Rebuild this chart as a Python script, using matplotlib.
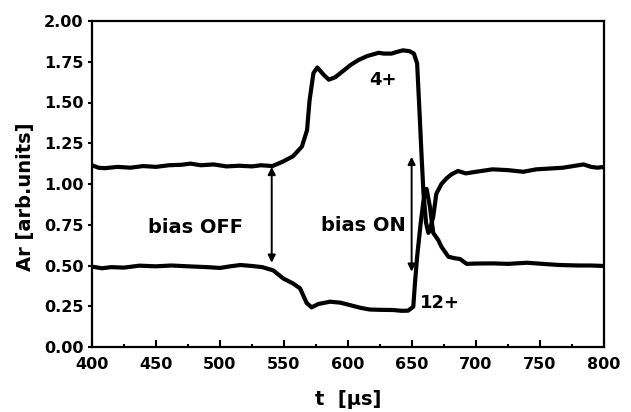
import matplotlib
matplotlib.use("Agg")
import matplotlib.pyplot as plt

# 4+ signal
t_4 = [400, 405, 410, 420, 430, 440, 450, 460, 470, 477, 485, 495, 505, 515, 525, 532,
       541, 549, 557, 564, 568, 570, 573, 576, 581, 585, 590, 594, 602, 608, 615, 624,
       628, 634, 638, 643, 648, 651.5, 654, 655.7, 657.5, 659, 661, 662.8, 664, 666.6,
       669, 673, 677, 681, 686, 692, 700, 713, 725, 737, 747, 758, 768, 776, 784, 790,
       795, 800]
y_4 = [1.115, 1.10, 1.097, 1.105, 1.10, 1.11, 1.105, 1.115, 1.118, 1.125, 1.115, 1.12,
       1.108, 1.112, 1.108, 1.115, 1.11, 1.137, 1.17, 1.23, 1.33, 1.515, 1.68, 1.715,
       1.67, 1.64, 1.655, 1.68, 1.73, 1.76, 1.785, 1.805, 1.80, 1.80, 1.81, 1.82, 1.815,
       1.80, 1.74, 1.47, 1.17, 0.94, 0.76, 0.70, 0.72, 0.80, 0.94, 1.00, 1.035, 1.06,
       1.08, 1.065, 1.075, 1.09, 1.085, 1.075, 1.09, 1.095, 1.10, 1.11, 1.12, 1.105,
       1.10, 1.105]

# 12+ signal
t_12 = [400, 408, 415, 425, 437, 450, 462, 475, 490, 500, 508, 516, 525, 533, 541.6,
        549.5, 557, 562.5, 567.7, 571.6, 576.8, 586, 594, 604, 610, 617, 625, 635, 642,
        647, 651, 652.3, 654, 656.8, 659, 661.4, 664, 666.6, 670.5, 673, 678.4, 683,
        687.5, 692.7, 700, 713, 725, 740, 752, 765, 780, 790, 800]
y_12 = [0.493, 0.483, 0.49, 0.487, 0.499, 0.495, 0.50, 0.495, 0.49, 0.485, 0.495, 0.503,
        0.497, 0.49, 0.47, 0.42, 0.39, 0.36, 0.27, 0.243, 0.264, 0.278, 0.272, 0.252,
        0.24, 0.23, 0.228, 0.227, 0.222, 0.223, 0.247, 0.39, 0.554, 0.76, 0.90, 0.97,
        0.86, 0.70, 0.656, 0.615, 0.554, 0.545, 0.54, 0.51, 0.512, 0.513, 0.51, 0.517,
        0.51, 0.503, 0.50, 0.50, 0.497]

x_ticks = [400, 450, 500, 550, 600, 650, 700, 750, 800]
y_ticks = [0.00, 0.25, 0.50, 0.75, 1.00, 1.25, 1.50, 1.75, 2.00]

plt.rcParams['font.family'] = ['DejaVu Sans']
plt.rcParams['font.weight'] = 'bold'

fig = plt.figure(figsize=(6.31, 4.12), dpi=100)
ax = fig.add_axes([92/631, 1-347/412, (604-92)/631, (347-21)/412])

ax.plot(t_4, y_4, color='black', lw=3, solid_joinstyle='round', solid_capstyle='round')
ax.plot(t_12, y_12, color='black', lw=3, solid_joinstyle='round', solid_capstyle='round')

ax.set_xlim(400, 800)
ax.set_ylim(0, 2.0)
ax.set_xticks(x_ticks)
ax.set_xticks([425, 475, 525, 575, 625, 675, 725, 775], minor=True)
ax.set_yticks(y_ticks)
ax.set_xticklabels([str(v) for v in x_ticks], fontsize=11.5, fontweight='bold')
ax.set_yticklabels([f"{v:.2f}" for v in y_ticks], fontsize=11.5, fontweight='bold')

for s in ax.spines.values():
    s.set_linewidth(1.6)
ax.tick_params(axis='x', which='major', direction='in', length=5, width=1.5, pad=7)
ax.tick_params(axis='x', which='minor', direction='in', length=2.5, width=1.5)
ax.tick_params(axis='y', which='major', direction='out', length=3, width=1.5, pad=3)

ax.set_xlabel("t  [μs]", fontsize=14, fontweight='bold', labelpad=13)
ax.set_ylabel("Ar [arb.units]", fontsize=14, fontweight='bold')
ax.yaxis.set_label_coords(-0.112, 0.46)

# annotations
arrow_kw = dict(arrowstyle='<|-|>', color='black', lw=1.4, mutation_scale=11,
                shrinkA=0, shrinkB=0)
ax.annotate('', xy=(540.4, 1.105), xytext=(540.4, 0.517), arrowprops=arrow_kw)
ax.annotate('', xy=(649.7, 1.167), xytext=(649.7, 0.462), arrowprops=arrow_kw)

ax.text(481, 0.734, "bias OFF", fontsize=14, fontweight='bold', ha='center', va='center')
ax.text(612, 0.748, "bias ON", fontsize=14, fontweight='bold', ha='center', va='center')
ax.text(627.6, 1.64, "4+", fontsize=13, fontweight='bold', ha='center', va='center')
ax.text(671.9, 0.268, "12+", fontsize=13, fontweight='bold', ha='center', va='center')

fig.savefig("out.png", dpi=100)
